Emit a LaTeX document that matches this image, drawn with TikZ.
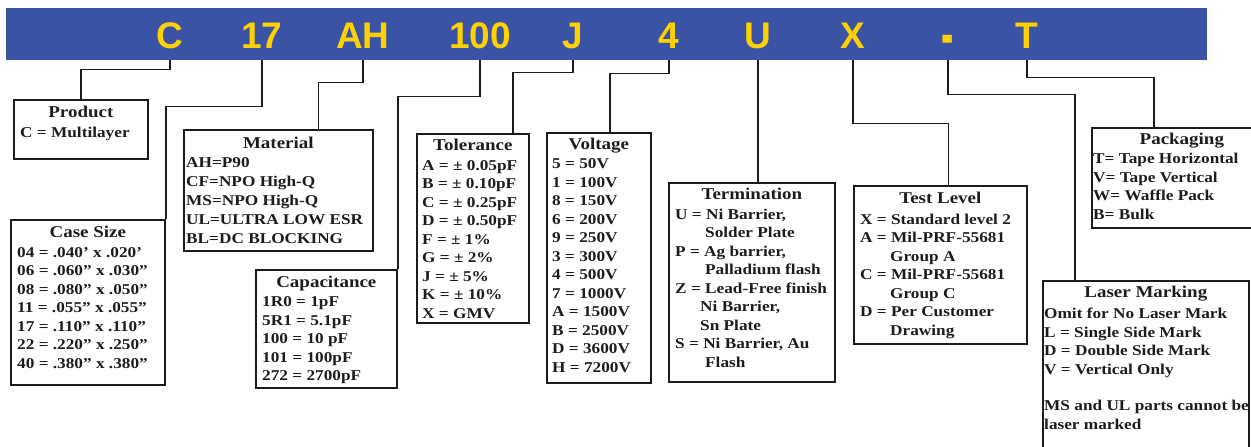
\documentclass[tikz,border=0pt]{standalone}
\usepackage{graphicx}
\usepackage{fontspec}
\setmainfont{Liberation Serif}[FakeStretch=1.15]
\newfontfamily\codefont{Liberation Sans}
\usetikzlibrary{positioning}
\definecolor{barblue}{HTML}{3A53A4}
\definecolor{codeyellow}{HTML}{FFD100}
\definecolor{ink}{HTML}{1C1C1C}

\begin{document}
\begin{tikzpicture}[
      x=1pt, y=-1pt,
      codebar/.style={
        fill=barblue,
        anchor=north west,
        inner sep=0pt
      },
      code/.style={
        anchor=base,
        inner sep=0pt,
        text=codeyellow,
        font=\codefont\bfseries\fontsize{37}{37}\selectfont
      },
      field/.style={
        draw=ink,
        line width=1.7pt,
        anchor=north west,
        inner sep=0pt
      },
      fieldname/.style={
        anchor=base,
        inner sep=0pt,
        text=ink,
        font=\bfseries\fontsize{16.5}{18}\selectfont
      },
      fieldbody/.style={
        anchor=north west,
        align=left,
        inner sep=0pt,
        text=ink,
        font=\bfseries\fontsize{15}{18.5}\selectfont
      },
      wire/.style={
        draw=ink,
        line width=1.7pt
      }
    ]
    \useasboundingbox (0,0) rectangle (1251,447);
    \clip (0,0) rectangle (1251,447);
    %% Part number bar
    \node[codebar, minimum width=1201pt, minimum height=52pt] (bar) at (6,8) {};
    \node[code] (code-c) at (170,48) {C};
    \node[code] (code-17) at (262,48) {17};
    \node[code] (code-ah) at (363,48) {AH};
    \node[code] (code-100) at (480,48) {100};
    \node[code] (code-j) at (573,48) {J};
    \node[code] (code-4) at (669,48) {4};
    \node[code] (code-u) at (758,48) {U};
    \node[code] (code-x) at (853,48) {X};
    \node[code] (code-dash) at (948,48) {\raisebox{-8.3pt}{\scalebox{1}[1.8]{-}}};
    \node[code] (code-t) at (1027,48) {T};
    %% Fields
    %% Product
    \node[field, minimum width=134pt, minimum height=59pt] (product) at (13,99) {};
    \node[fieldname] (product-name) at ([yshift=-18pt]product.north) {Product};
    \node[fieldbody] (product-body) at ([xshift=7pt,yshift=-27.5pt]product.north west) {C = Multilayer};
    %% Case size
    \node[field, minimum width=154pt, minimum height=165pt] (casesize) at (10,219) {};
    \node[fieldname] (casesize-name) at ([yshift=-18pt]casesize.north) {Case Size};
    \node[fieldbody] (casesize-body) at ([xshift=7pt,yshift=-28pt]casesize.north west) {%
        04 = .040’ x .020’\\
        06 = .060” x .030”\\
        08 = .080” x .050”\\
        11 = .055” x .055”\\
        17 = .110” x .110”\\
        22 = .220” x .250”\\
        40 = .380” x .380”};
    %% Material
    \node[field, minimum width=189pt, minimum height=121pt] (material) at (183,129) {};
    \node[fieldname] (material-name) at ([yshift=-19pt]material.north) {Material};
    \node[fieldbody, font=\bfseries\fontsize{15}{19}\selectfont] (material-body) at ([xshift=3pt,yshift=-28.5pt]material.north west) {%
        AH=P90\\
        CF=NPO High-Q\\
        MS=NPO High-Q\\
        UL=ULTRA LOW ESR\\
        BL=DC BLOCKING};
    %% Capacitance
    \node[field, minimum width=141pt, minimum height=118pt] (capacitance) at (255,269) {};
    \node[fieldname] (capacitance-name) at ([yshift=-18pt]capacitance.north) {Capacitance};
    \node[fieldbody] (capacitance-body) at ([xshift=7pt,yshift=-27.5pt]capacitance.north west) {%
        1R0 = 1pF\\
        5R1 = 5.1pF\\
        100 = 10 pF\\
        101 = 100pF\\
        272 = 2700pF};
    %% Tolerance
    \node[field, minimum width=112pt, minimum height=189pt] (tolerance) at (416,133) {};
    \node[fieldname] (tolerance-name) at ([yshift=-17.5pt]tolerance.north) {Tolerance};
    \node[fieldbody] (tolerance-body) at ([xshift=6pt,yshift=-27pt]tolerance.north west) {%
        A = ± 0.05pF\\
        B = ± 0.10pF\\
        C = ± 0.25pF\\
        D = ± 0.50pF\\
        F = ± 1\%\\
        G = ± 2\%\\
        J = ± 5\%\\
        K = ± 10\%\\
        X = GMV};
    %% Voltage
    \node[field, minimum width=104pt, minimum height=250pt] (voltage) at (546,132) {};
    \node[fieldname] (voltage-name) at ([yshift=-17pt]voltage.north) {Voltage};
    \node[fieldbody] (voltage-body) at ([xshift=6pt,yshift=-26.5pt]voltage.north west) {%
        5 = 50V\\
        1 = 100V\\
        8 = 150V\\
        6 = 200V\\
        9 = 250V\\
        3 = 300V\\
        4 = 500V\\
        7 = 1000V\\
        A = 1500V\\
        B = 2500V\\
        D = 3600V\\
        H = 7200V};
    %% Termination
    \node[field, minimum width=166pt, minimum height=199pt] (termination) at (668,182) {};
    \node[fieldname] (termination-name) at ([yshift=-17.5pt]termination.north) {Termination};
    \node[fieldbody] (termination-body) at ([xshift=7pt,yshift=-26.5pt]termination.north west) {%
        U = Ni Barrier,\\
        \hspace*{30pt}Solder Plate\\
        P = Ag barrier,\\
        \hspace*{30pt}Palladium flash\\
        Z = Lead-Free finish\\
        \hspace*{25pt}Ni Barrier,\\
        \hspace*{25pt}Sn Plate\\
        S = Ni Barrier, Au\\
        \hspace*{30pt}Flash};
    %% Test level
    \node[field, minimum width=173pt, minimum height=158pt] (testlevel) at (853,185) {};
    \node[fieldname] (testlevel-name) at ([yshift=-18.5pt]testlevel.north) {Test Level};
    \node[fieldbody] (testlevel-body) at ([xshift=7pt,yshift=-28.5pt]testlevel.north west) {%
        X = Standard level 2\\
        A = Mil-PRF-55681\\
        \hspace*{30pt}Group A\\
        C = Mil-PRF-55681\\
        \hspace*{30pt}Group C\\
        D = Per Customer\\
        \hspace*{30pt}Drawing};
    %% Packaging
    \node[field, minimum width=180pt, minimum height=100pt] (packaging) at (1091,127) {};
    \node[fieldname] (packaging-name) at ([yshift=-17.5pt]packaging.north) {Packaging};
    \node[fieldbody] (packaging-body) at ([xshift=2pt,yshift=-26pt]packaging.north west) {%
        T= Tape Horizontal\\
        V= Tape Vertical\\
        W= Waffle Pack\\
        B= Bulk};
    %% Laser marking
    \node[field, minimum width=206pt, minimum height=200pt] (laser) at (1042,280) {};
    \node[fieldname] (laser-name) at ([yshift=-17.5pt]laser.north) {Laser Marking};
    \node[fieldbody] (laser-body) at ([xshift=2pt,yshift=-28pt]laser.north west) {%
        Omit for No Laser Mark\\
        L = Single Side Mark\\
        D = Double Side Mark\\
        V = Vertical Only\\[18pt]
        MS and UL parts cannot be\\
        laser marked};
    %% Connectors
    \draw[wire] (code-c |- bar.south) -- ++(0,9) -| (product.north);
    \draw[wire] (code-17 |- bar.south) -- ++(0,46) -| (casesize.north east);
    \draw[wire] (code-ah |- bar.south) -- ++(0,22) -| ([xshift=40pt]material.north);
    \draw[wire] (code-100 |- bar.south) -- ++(0,36) -| (capacitance.north east);
    \draw[wire] (code-j |- bar.south) -- ++(0,12) -| ([xshift=40pt]tolerance.north);
    \draw[wire] (code-4 |- bar.south) -- ++(0,13) -| ([xshift=11pt]voltage.north);
    \draw[wire] (code-u |- bar.south) -- (code-u |- termination.north);
    \draw[wire] (code-x |- bar.south) -- ++(0,63) -| ([xshift=8pt]testlevel.north);
    \draw[wire] (code-dash |- bar.south) -- ++(0,34) -| ([xshift=33pt]laser.north west);
    \draw[wire] (code-t |- bar.south) -- ++(0,17) -| ([xshift=63pt]packaging.north west);
  \end{tikzpicture}
\end{document}
